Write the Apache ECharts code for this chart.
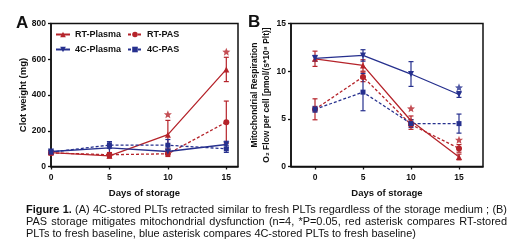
<!DOCTYPE html>
<html>
<head>
<meta charset="utf-8">
<title>Figure 1</title>
<script src="https://cdn.jsdelivr.net/npm/echarts@6/dist/echarts.min.js"></script>
<style>
  body { margin: 0; background: #fff; }
  #wrap { position: relative; width: 520px; height: 249px; }
  #main { position: absolute; left: 0; top: 0; width: 520px; height: 249px; }
  .cap { position: absolute; left: 26px; width: 481px; font-family: 'Liberation Sans', Arial, sans-serif; font-size: 10px; line-height: 12px; color: #111; white-space: nowrap; }
  .just { text-align: justify; text-align-last: justify; }
</style>
</head>
<body>
<div id="wrap">
  <div id="main"></div>
  <div class="cap just" id="c1" style="top:203px"><span id="l1"><b>Figure 1.</b> (A) 4C-stored PLTs retracted similar to fresh PLTs regardless of the storage medium ; (B)</span></div>
  <div class="cap just" style="top:215px; white-space:normal">PAS storage mitigates mitochondrial dysfunction (n=4, *P=0.05, red asterisk compares RT-stored</div>
  <div class="cap" style="top:227px">PLTs to fresh baseline, blue asterisk compares 4C-stored PLTs to fresh baseline)</div>
</div>
<script type="text/javascript">
    // caption: fit the first line to the text width (measured without justification)
    (function () {
        var c1 = document.getElementById('c1');
        c1.classList.remove('just');
        var w = document.getElementById('l1').getBoundingClientRect().width;
        c1.classList.add('just');
        var size = Math.min(12, 10 * 478 / w);
        document.querySelectorAll('.cap').forEach(function (el) { el.style.fontSize = size + 'px'; });
    })();

    // days of storage
    var days = [0, 5, 10, 15];

    // A - clot weight (mg), mean and error
    var clotRtPlasma = [78, 60, 178, 543];
    var clotRtPlasmaErr = [10, 12, 80, 68];
    var clotRtPas = [76, 66, 71, 248];
    var clotRtPasErr = [8, 12, 15, 118];
    var clot4cPlasma = [84, 104, 84, 123];
    var clot4cPlasmaErr = [8, 35, 10, 18];
    var clot4cPas = [80, 120, 119, 99];
    var clot4cPasErr = [10, 18, 32, 20];
    // A - asterisks [day, position]
    var starsA = [[10, 292], [15, 642]];

    // B - O2 flow per cell, mean and error
    var o2RtPlasma = [11.3, 10.6, 4.8, 1.0];
    var o2RtPlasmaErr = [0.8, 0.6, 0.5, 0.3];
    var o2RtPas = [6.0, 9.4, 4.4, 1.9];
    var o2RtPasErr = [1.1, 0.5, 0.5, 0.4];
    var o24cPlasma = [11.35, 11.65, 9.7, 7.55];
    var o24cPlasmaErr = [0.3, 0.6, 1.3, 0.3];
    var o24cPas = [6.0, 7.8, 4.5, 4.5];
    var o24cPasErr = [0.3, 1.95, 0.4, 1.0];
    var starsBRed = [[10, 6.1], [15, 2.8]];
    var starsBBlue = [[15, 8.3]];

    var RED = '#b5232a';
    var BLUE = '#26308e';
    var FONT = "'Liberation Sans', Arial, sans-serif";
    var STAR = 'path://M0,-10 L2.6,-3.6 9.5,-3.1 4.2,1.4 5.9,8.1 0,4.4 -5.9,8.1 -4.2,1.4 -9.5,-3.1 -2.6,-3.6Z';

    function pairs(ys) {
        return days.map(function (d, i) { return [d, ys[i]]; });
    }
    function bars(ys, es) {
        return days.map(function (d, i) { return [d, ys[i] - es[i], ys[i] + es[i]]; });
    }
    function errRender(color) {
        return function (params, api) {
            var x = api.value(0);
            var lo = api.coord([x, api.value(1)]);
            var hi = api.coord([x, api.value(2)]);
            var w = 2.5;
            var st = { stroke: color, lineWidth: 1.2 };
            return {
                type: 'group',
                children: [
                    { type: 'line', shape: { x1: lo[0], y1: lo[1], x2: hi[0], y2: hi[1] }, style: st },
                    { type: 'line', shape: { x1: lo[0] - w, y1: lo[1], x2: lo[0] + w, y2: lo[1] }, style: st },
                    { type: 'line', shape: { x1: hi[0] - w, y1: hi[1], x2: hi[0] + w, y2: hi[1] }, style: st }
                ]
            };
        };
    }
    function lineSeries(name, idx, ys, color, symbol, dashed, rotate) {
        return {
            name: name, type: 'line', xAxisIndex: idx, yAxisIndex: idx,
            data: pairs(ys), symbol: symbol, symbolSize: symbol === 'rect' ? 5 : 6,
            symbolRotate: rotate || 0,
            itemStyle: { color: color },
            lineStyle: { color: color, width: 1.3, type: dashed ? [3, 2] : 'solid' },
            animation: false, z: 3
        };
    }
    function errSeries(idx, ys, es, color) {
        return {
            type: 'custom', xAxisIndex: idx, yAxisIndex: idx,
            data: bars(ys, es), encode: { x: 0, y: [1, 2] },
            renderItem: errRender(color), animation: false, z: 2
        };
    }
    function starSeries(idx, pts, color) {
        return {
            type: 'scatter', xAxisIndex: idx, yAxisIndex: idx, data: pts,
            symbol: STAR, symbolSize: 8, itemStyle: { color: color }, animation: false, z: 4
        };
    }

    var axisLineStyle = { show: true, onZero: false, lineStyle: { color: '#111', width: 1.5 } };
    var tickStyle = { show: true, length: 3, lineStyle: { color: '#111', width: 1.3 } };
    var labelStyle = { color: '#111', fontFamily: FONT, fontWeight: 'bold', fontSize: 8.5 };
    var nameStyle = { color: '#111', fontFamily: FONT, fontWeight: 'bold', fontSize: 9.5 };
    var legendText = { fontFamily: FONT, fontWeight: 'bold', fontSize: 9, color: '#111' };

    var myChart = echarts.init(document.getElementById('main'));

    myChart.setOption({
        backgroundColor: 'transparent',
        textStyle: { fontFamily: FONT },
        title: [
            { text: 'A', left: 11, top: 10, textStyle: { fontFamily: FONT, fontWeight: 'bold', fontSize: 17, color: '#111' } },
            { text: 'B', left: 243, top: 9, textStyle: { fontFamily: FONT, fontWeight: 'bold', fontSize: 17, color: '#111' } }
        ],
        legend: [
            {
                data: ['RT-Plasma', '4C-Plasma'], orient: 'vertical', left: 55, top: 30, padding: 0,
                itemWidth: 14, itemHeight: 7, itemGap: 6, textStyle: legendText
            },
            {
                data: ['RT-PAS', '4C-PAS'], orient: 'vertical', left: 127, top: 30, padding: 0,
                itemWidth: 14, itemHeight: 7, itemGap: 6, textStyle: legendText
            }
        ],
        grid: [
            { left: 51, top: 23.5, width: 187, height: 143, show: true, borderColor: '#111', borderWidth: 1.5, containLabel: false },
            { left: 291, top: 23.5, width: 192, height: 143, show: true, borderColor: '#111', borderWidth: 1.5, containLabel: false }
        ],
        xAxis: [
            {
                gridIndex: 0, type: 'value', min: 0, max: 16, interval: 5,
                axisLine: axisLineStyle, splitLine: { show: false },
                axisTick: Object.assign({ customValues: days }, tickStyle),
                axisLabel: Object.assign({ customValues: days, margin: 7 }, labelStyle),
                name: 'Days of storage', nameLocation: 'middle', nameGap: 22, nameTextStyle: nameStyle
            },
            {
                gridIndex: 1, type: 'value', min: -2.5, max: 17.5,
                axisLine: axisLineStyle, splitLine: { show: false },
                axisTick: Object.assign({ customValues: days }, tickStyle),
                axisLabel: Object.assign({ customValues: days, margin: 7 }, labelStyle),
                name: 'Days of storage', nameLocation: 'middle', nameGap: 22, nameTextStyle: nameStyle
            }
        ],
        yAxis: [
            {
                gridIndex: 0, type: 'value', min: 0, max: 800, interval: 200,
                axisLine: axisLineStyle, splitLine: { show: false },
                axisTick: tickStyle, axisLabel: Object.assign({ margin: 5 }, labelStyle),
                name: 'Clot weight (mg)', nameLocation: 'middle', nameGap: 23, nameTextStyle: nameStyle
            },
            {
                gridIndex: 1, type: 'value', min: 0, max: 15, interval: 5,
                axisLine: axisLineStyle, splitLine: { show: false },
                axisTick: tickStyle, axisLabel: Object.assign({ margin: 5 }, labelStyle),
                name: 'Mitochondrial Respiration\nO\u2082 Flow per cell [pmol/(s*10\u2078 Plt)]',
                nameLocation: 'middle', nameGap: 17,
                nameTextStyle: Object.assign({ lineHeight: 12 }, nameStyle, { fontSize: 8.5 })
            }
        ],
        series: [
            errSeries(0, clotRtPlasma, clotRtPlasmaErr, RED),
            errSeries(0, clotRtPas, clotRtPasErr, RED),
            errSeries(0, clot4cPlasma, clot4cPlasmaErr, BLUE),
            errSeries(0, clot4cPas, clot4cPasErr, BLUE),
            lineSeries('RT-Plasma', 0, clotRtPlasma, RED, 'triangle', false),
            lineSeries('RT-PAS', 0, clotRtPas, RED, 'circle', true),
            lineSeries('4C-Plasma', 0, clot4cPlasma, BLUE, 'triangle', false, 180),
            lineSeries('4C-PAS', 0, clot4cPas, BLUE, 'rect', true),
            starSeries(0, starsA, RED),

            errSeries(1, o2RtPlasma, o2RtPlasmaErr, RED),
            errSeries(1, o2RtPas, o2RtPasErr, RED),
            errSeries(1, o24cPlasma, o24cPlasmaErr, BLUE),
            errSeries(1, o24cPas, o24cPasErr, BLUE),
            lineSeries('RT-Plasma', 1, o2RtPlasma, RED, 'triangle', false),
            lineSeries('RT-PAS', 1, o2RtPas, RED, 'circle', true),
            lineSeries('4C-Plasma', 1, o24cPlasma, BLUE, 'triangle', false, 180),
            lineSeries('4C-PAS', 1, o24cPas, BLUE, 'rect', true),
            starSeries(1, starsBRed, RED),
            starSeries(1, starsBBlue, BLUE)
        ]
    });
</script>
</body>
</html>
